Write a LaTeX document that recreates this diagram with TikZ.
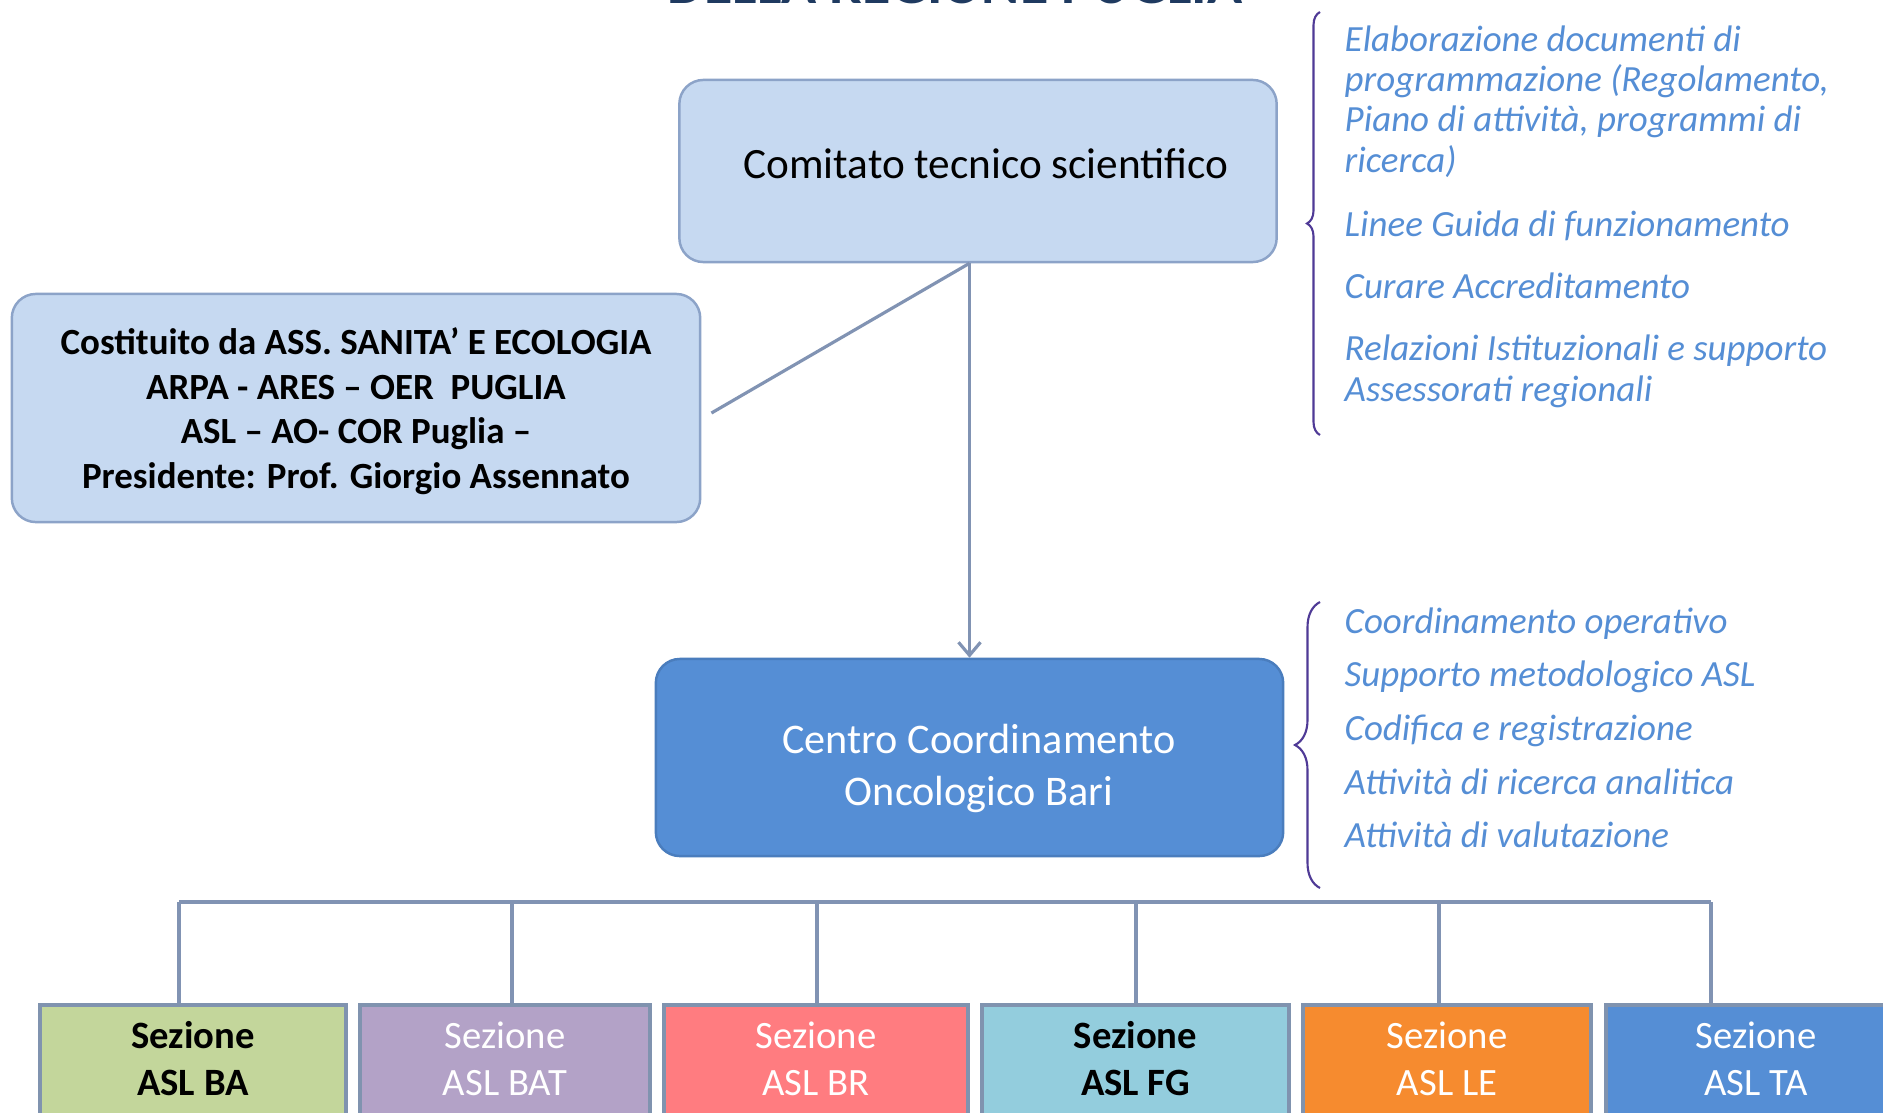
\documentclass[tikz,border=0pt]{standalone}
\usepackage{fontspec}
\setmainfont{Carlito}
\usetikzlibrary{positioning,arrows.meta,decorations.pathreplacing}

\definecolor{titleblue}{HTML}{1F3A60}
\definecolor{palefill}{HTML}{C6D9F1}
\definecolor{paleline}{HTML}{8CA3C8}
\definecolor{centrofill}{HTML}{558ED5}
\definecolor{centroline}{HTML}{4A7DBD}
\definecolor{linkgrey}{HTML}{8193B3}
\definecolor{itemblue}{HTML}{558ED5}
\definecolor{bracepurple}{HTML}{4F3A96}
\definecolor{sezline}{HTML}{8093AF}
\definecolor{colBA}{HTML}{C3D69B}
\definecolor{colBAT}{HTML}{B3A2C7}
\definecolor{colBR}{HTML}{FF7C80}
\definecolor{colFG}{HTML}{93CDDD}
\definecolor{colLE}{HTML}{F68B2F}
\definecolor{colTA}{HTML}{558ED5}

\tikzset{
  palebox/.style={draw=paleline, fill=palefill, line width=0.7pt, rounded corners=0.24cm, align=center},
  link/.style={draw=linkgrey, line width=0.9pt},
  sezbox/.style={draw=sezline, line width=1pt, anchor=north, minimum height=1.16cm, align=center, text depth=0.08cm},
  item/.style={text=itemblue, anchor=base west, align=left, inner sep=0pt,
    font=\fontsize{10.5}{11.4}\selectfont\itshape},
  graffa/.style={draw=bracepurple, line width=0.6pt, decorate, decoration={brace, amplitude=#1}}
}

\begin{document}
\begin{tikzpicture}[x=0.01cm, y=-0.01cm]
% Page frame (pixel grid, y going down)
\clip (0,0) rectangle (1883,1112);
\fill[white] (0,0) rectangle (1883,1112);

% Title, cut by the upper edge
\node[font=\fontsize{16.5}{18}\selectfont\bfseries, text=titleblue, anchor=base, inner sep=0pt] (titolo) at (955,3) {DELLA REGIONE PUGLIA};

% Boxes
\node[palebox, minimum width=5.97cm, minimum height=1.82cm, text depth=0.14cm,
  font=\fontsize{12.3}{14}\selectfont] (comitato) at (978,171) {\hspace*{0.16cm}Comitato tecnico scientifico};
\node[palebox, minimum width=6.88cm, minimum height=2.28cm, text height=1.69cm, text depth=0.08cm,
  font=\fontsize{10.5}{12.7}\selectfont\bfseries] (costituito) at (356,408)
  {Costituito da ASS. SANITA’ E ECOLOGIA\\ARPA - ARES – OER\ \ PUGLIA\\ASL – AO- COR Puglia –\\Presidente: Prof. Giorgio Assennato};
\node[draw=centroline, fill=centrofill, line width=0.7pt, rounded corners=0.24cm, align=center,
  minimum width=6.27cm, minimum height=1.97cm, text height=1.05cm, text depth=0.1cm,
  text=white, font=\fontsize{12}{14.6}\selectfont] (centro) at (969.5,757.5)
  {\hspace*{0.19cm}Centro Coordinamento\\\hspace*{0.19cm}Oncologico Bari};

% Links from the committee
\draw[link, -{Straight Barb[length=0.13cm, width=0.22cm]}] (comitato.south -| centro.north) -- (centro.north);
\draw[link] (comitato.south -| centro.north) -- ([xshift=0.1cm, yshift=-0.05cm]costituito.east);

% Sections
\foreach \n/\x/\w/\c/\tc/\wt in {BA/193/3.06/colBA/black/\bfseries, BAT/505/2.90/colBAT/white/\mdseries,
    BR/816/3.04/colBR/white/\mdseries, FG/1135.5/3.07/colFG/black/\bfseries,
    LE/1447/2.88/colLE/white/\mdseries, TA/1756/3.00/colTA/white/\mdseries}
  \node[sezbox, fill=\c, text=\tc, minimum width=\w cm, font=\fontsize{11}{13.3}\selectfont\wt] (sez\n) at (\x,1003) {Sezione\\ASL \n};

% Bus line to the sections
\foreach \n/\x in {BA/179, BAT/512, BR/817, FG/1136, LE/1439, TA/1711}{
  \coordinate (bus\n) at (\x,902);
  \draw[link] (bus\n) -- (bus\n |- sez\n.north);
}
\draw[link] (busBA) -- (busTA);

% Braces and activity lists
\draw[graffa=0.13cm] (1320,435) -- (1320,12);
\draw[graffa=0.25cm] (1320,888) -- (1320,602);

\node[item] (voce1) at (1344,172) {Elaborazione documenti di\\programmazione (Regolamento,\\Piano di attività, programmi di\\ricerca)};
\node[item] (voce2) at (1344,236) {Linee Guida di funzionamento};
\node[item] (voce3) at (1344,298) {Curare Accreditamento};
\node[item] (voce4) at (1344,401) {Relazioni Istituzionali e supporto\\Assessorati regionali};
\foreach \txt [count=\i from 0] in {Coordinamento operativo, Supporto metodologico ASL,
    Codifica e registrazione, Attività di ricerca analitica, Attività di valutazione}
  \node[item] (compito\i) at (1344,633+53.7*\i) {\txt};
\end{tikzpicture}
\end{document}
